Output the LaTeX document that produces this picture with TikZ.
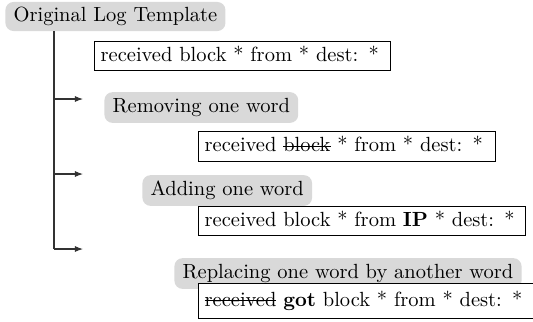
\documentclass[tikz,border=0pt]{standalone}
\usetikzlibrary{arrows.meta}
% struck-through word: a thin rule across the box at mid x-height
\newsavebox{\strikebox}
\newcommand{\strikeword}[1]{\sbox{\strikebox}{#1}\rlap{\rule[0.55ex]{\wd\strikebox}{0.4pt}}\usebox{\strikebox}}
\begin{document}
\begin{tikzpicture}[x=0.4878pt,y=-0.4878pt,
  stage/.style={fill=gray!30, rounded corners=4pt, inner xsep=4pt, inner ysep=0pt,
    minimum height=15pt, anchor=west, text height=6.9pt, text depth=1.9pt},
  tmpl/.style={draw, fill=white, line width=0.5pt, inner xsep=3pt, inner ysep=0pt,
    minimum height=14.6pt, anchor=west, align=left, text height=6.9pt, text depth=1.9pt},
  branch/.style={line width=0.5pt, draw=black!80},
  branchtip/.style={branch, -{Latex[length=4pt,width=3pt]}},
]
\useasboundingbox (0,0) rectangle (533,321);

% root of the tree
\node[stage, minimum height=14.2pt] (root) at (5,16.5) {Original Log Template};
\node[tmpl, text width=138.4pt] (orig) at (94,56) {received block * from * dest: *};

% the three kinds of edit
\node[stage] (remove) at (104,107.5) {Removing one word};
\node[tmpl, text width=138.9pt] (removed) at (198,146.5) {received \strikeword{block} * from * dest: *};

\node[stage] (add) at (142,190.5) {Adding one word};
\node[tmpl, text width=153.5pt] (added) at (198,221) {received block * from \textbf{IP} * dest: *};

\node[stage] (replace) at (174,273.5) {Replacing one word by another word};
% this last template runs on past the right edge of the page
\node[tmpl, text width=210pt, minimum height=17pt] (replaced) at (198,301) {\strikeword{received} \textbf{got} block * from * dest: *};

% trunk and branch arrows
\coordinate (trunk) at (54,0);
\coordinate (b1) at (83,99);
\coordinate (b2) at (83,174);
\coordinate (b3) at (83,249);
\draw[branch] (root.south -| trunk) -- (b3 -| trunk);
\draw[branchtip] (b1 -| trunk) -- (b1);
\draw[branchtip] (b2 -| trunk) -- (b2);
\draw[branchtip] (b3 -| trunk) -- (b3);
\end{tikzpicture}
\end{document}
